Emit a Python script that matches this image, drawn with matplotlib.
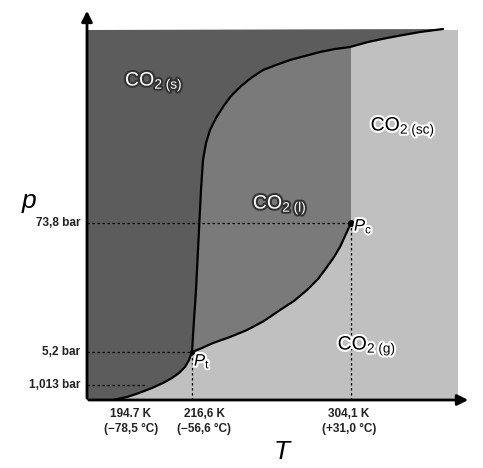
import matplotlib.pyplot as plt
import matplotlib.patheffects as pe
import numpy as np

plt.rcParams['font.family'] = ['Liberation Sans', 'DejaVu Sans']
plt.rcParams['mathtext.fontset'] = 'custom'
plt.rcParams['mathtext.rm'] = 'Liberation Sans'
plt.rcParams['mathtext.it'] = 'Liberation Sans:italic'

# schematic diagram coordinates (not to scale)
sub_x = [26, 40, 52, 65, 76, 85, 92, 98, 102, 105]
sub_y = [0, 3, 7, 12, 17, 22, 27, 33, 40, 48]
melt_x = [105, 107, 109, 111, 113, 114, 116, 119, 123, 129, 136, 144, 153, 164, 176,
          189, 203, 218, 233, 248, 263, 281, 300, 316, 333, 356]
melt_y = [48, 80, 110, 150, 190, 210, 240, 257, 270, 282, 293, 304, 313, 322, 330,
          335, 340, 344, 348, 351, 353, 358, 362, 365, 368, 371]
vap_x = [105, 115, 126, 143, 160, 177, 193, 207, 220, 231, 240, 247, 253, 258, 264]
vap_y = [48, 52, 57, 63, 70, 79, 90, 99, 110, 121, 133, 143, 153, 164, 177]
triple = (105, 48)
critical = (264, 177)

p_labels = ['73,8 bar', '5,2 bar', '1,013 bar']
p_values = [177, 48, 15]
T_labels = ['194.7 K\n(\u221278,5 \u00b0C)', '216,6 K\n(\u221256,6 \u00b0C)', '304,1 K\n(+31,0 \u00b0C)']
T_values = [48, 105, 264]

x_right, y_top = 371, 370

fig = plt.figure(figsize=(4.83, 4.68), dpi=100)
ax = fig.add_axes([87/483, 68/468, 383/483, 390/468])
ax.set_xlim(0, 383)
ax.set_ylim(0, 390)
ax.axis('off')

light = '#c0c0c0'
mid = '#7a7a7a'
dark = '#5c5c5c'

# background (gas / supercritical)
ax.fill([0, x_right, x_right, 0], [0, 0, y_top, y_top], color=light, lw=0)

# solid region
sx = [0] + sub_x + melt_x[1:] + [0]
sy = [0] + sub_y + melt_y[1:] + [y_top]
ax.fill(sx, sy, color=dark, lw=0)
ax.fill([melt_x[-1], x_right, x_right], [melt_y[-1], y_top, y_top], color=dark, lw=0)

# liquid region: between melting and vaporization curves, left of critical T
mx = np.array(melt_x)
my = np.array(melt_y)
y_at_c = np.interp(critical[0], mx, my)
keep = mx < critical[0]
lx = list(vap_x) + [critical[0]] + list(mx[keep][::-1])
ly = list(vap_y) + [y_at_c] + list(my[keep][::-1])
ax.fill(lx, ly, color=mid, lw=0)

# phase boundaries
kw = dict(color='black', lw=1.6, solid_capstyle='round', solid_joinstyle='round')
ax.plot(sub_x, sub_y, **kw)
ax.plot(melt_x, melt_y, **kw)
ax.plot(vap_x, vap_y, **kw)
ax.plot(*triple, 'o', color='black', ms=3)
ax.plot(*critical, 'o', color='black', ms=4)

# dashed guide lines
dash = dict(color='black', lw=0.9, ls=(0, (2, 2)))
ax.plot([0, critical[0]], [critical[1], critical[1]], **dash)
ax.plot([0, triple[0]], [triple[1], triple[1]], **dash)
ax.plot([0, 60], [p_values[2], p_values[2]], **dash)
ax.plot([triple[0], triple[0]], [0, triple[1]], **dash)
ax.plot([critical[0], critical[0]], [0, critical[1]], **dash)

# axes arrows
ax.annotate('', xy=(0, 392), xytext=(0, -1), annotation_clip=False,
            arrowprops=dict(arrowstyle='-|>', color='black', lw=2, mutation_scale=16))
ax.annotate('', xy=(384, 0), xytext=(-1, 0), annotation_clip=False,
            arrowprops=dict(arrowstyle='-|>', color='black', lw=2, mutation_scale=16))

# tick labels
for lab, v in zip(p_labels, p_values):
    ax.text(-7, v, lab, ha='right', va='center', fontsize=8.5, fontweight='bold', color='#222222')
for lab, v, dx in zip(T_labels, T_values, [-4, 12, -2]):
    ax.text(v + dx, -8, lab, ha='center', va='top', fontsize=8.5, fontweight='bold',
            color='#222222', linespacing=1.3)

ax.text(-58, 185, '$p$', fontsize=19, ha='center', va='bottom')
ax.text(196, -64, '$T$', fontsize=19, ha='center', va='bottom')

# phase labels
white_txt = dict(color='white', path_effects=[pe.withStroke(linewidth=3, foreground='#333333')])
black_txt = dict(color='black', path_effects=[pe.withStroke(linewidth=3, foreground='white')])
ax.text(67, 318, r'CO$_{\mathregular{2\ (s)}}$', fontsize=14, ha='center', va='center', **white_txt)
ax.text(193, 195, r'CO$_{\mathregular{2\ (l)}}$', fontsize=14, ha='center', va='center', **white_txt)
ax.text(316, 273, r'CO$_{\mathregular{2\ (sc)}}$', fontsize=14, ha='center', va='center', **black_txt)
ax.text(280, 54, r'CO$_{\mathregular{2\ (g)}}$', fontsize=14, ha='center', va='center', **black_txt)
ax.text(critical[0] + 3, critical[1] - 3, r'$P_{\mathregular{c}}$', fontsize=12, ha='left', va='center', **black_txt)
ax.text(triple[0] + 2, triple[1] - 9, r'$P_{\mathregular{t}}$', fontsize=12, ha='left', va='center', **black_txt)

fig.savefig('out.png', dpi=100)
